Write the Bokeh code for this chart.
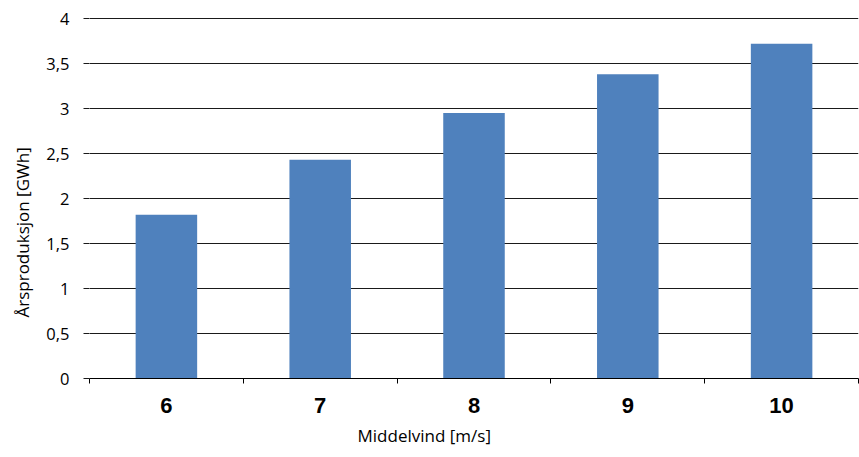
from bokeh.plotting import figure
from bokeh.models import Range1d, FixedTicker, Title
from bokeh.embed import file_html
from bokeh.resources import INLINE

# --- data ---
wind_speeds = ["6", "7", "8", "9", "10"]
production_gwh = [1.82, 2.43, 2.95, 3.38, 3.72]
y_ticks = [0, 0.5, 1, 1.5, 2, 2.5, 3, 3.5, 4]
y_tick_labels = ["0", "0,5", "1", "1,5", "2", "2,5", "3", "3,5", "4"]
x_title = "Middelvind [m/s]"
y_title = "Årsproduksjon [GWh]"

BAR = "#4F81BD"
GRID = "#1a1a1a"
FONT = "Open Sans"

# category centres sit at i + 0.5, boundaries at whole numbers (Excel style ticks)
centres = [i + 0.5 for i in range(len(wind_speeds))]
bounds = list(range(len(wind_speeds) + 1))

p = figure(
    width=859, height=457,
    x_range=Range1d(0, len(wind_speeds)),
    y_range=Range1d(0, 4.012),  # a hair over 4 so the top gridline is drawn
    toolbar_location=None,
    output_backend="svg",
    min_border_left=89, min_border_right=1,
    min_border_top=17, min_border_bottom=78,
)
p.outline_line_color = None
p.background_fill_color = "white"
p.border_fill_color = "white"

p.vbar(x=centres, top=production_gwh, width=0.4, bottom=0,
       fill_color=BAR, line_color=None)

# --- y axis ---
p.yaxis.ticker = FixedTicker(ticks=y_ticks)
p.yaxis.major_label_overrides = dict(zip(y_ticks, y_tick_labels))
p.yaxis.axis_line_color = None
p.yaxis.major_tick_in = 0
p.yaxis.major_tick_out = 6
p.yaxis.major_tick_line_color = GRID
p.yaxis.minor_tick_line_color = None
p.yaxis.major_label_standoff = 14
p.yaxis.major_label_text_font = FONT
p.yaxis.major_label_text_font_size = "16.5px"
p.yaxis.major_label_text_color = "black"

p.ygrid.grid_line_color = GRID
p.ygrid.grid_line_width = 1
p.xgrid.grid_line_color = None

# --- x axis: labels at centres, tick marks at boundaries ---
p.xaxis.ticker = FixedTicker(ticks=centres, minor_ticks=bounds)
p.xaxis.major_label_overrides = dict(zip(centres, wind_speeds))
p.xaxis.axis_line_color = "black"
p.xaxis.major_tick_line_color = None
p.xaxis.major_tick_in = 0
p.xaxis.major_tick_out = 6
p.xaxis.minor_tick_in = 0
p.xaxis.minor_tick_out = 5
p.xaxis.minor_tick_line_color = "black"
p.xaxis.major_label_standoff = 13
p.xaxis.major_label_text_font = "Liberation Sans"
p.xaxis.major_label_text_font_style = "bold"
p.xaxis.major_label_text_font_size = "22px"
p.xaxis.major_label_text_color = "black"

# axis titles, off-centre like the original
p.add_layout(Title(text=x_title, align="left", offset=268, standoff=17,
                   vertical_align="top",
                   text_font=FONT, text_font_size="17px", text_color="black",
                   text_font_style="normal"), "below")
p.add_layout(Title(text=y_title, align="left", offset=61, standoff=16,
                   vertical_align="top",
                   text_font=FONT, text_font_size="17px", text_color="black",
                   text_font_style="normal"), "left")

open("out.html", "w").write(file_html(p, INLINE))
